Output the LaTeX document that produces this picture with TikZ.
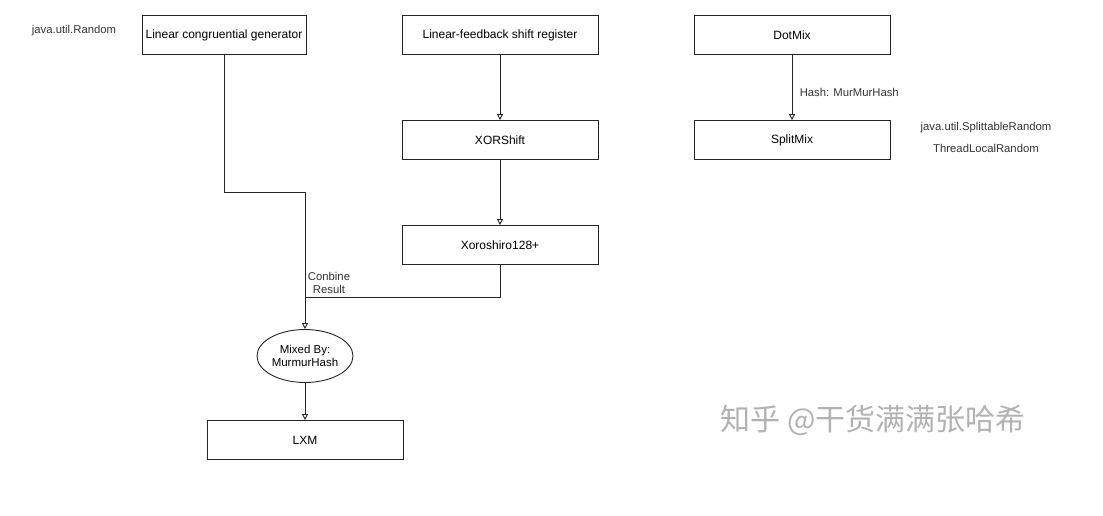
\documentclass[tikz,border=0pt]{standalone}
\usepackage{fontspec}
\setmainfont{Liberation Sans}
\newfontfamily\cjk{Noto Sans CJK SC}
\usepackage{tikz}
\usetikzlibrary{arrows.meta,positioning,shapes.geometric}

\begin{document}
\begin{tikzpicture}[x=1pt, y=-1pt,
  algo/.style={draw=black!85, line width=0.9pt, minimum width=196pt, minimum height=39pt, inner sep=0pt, font=\fontsize{12}{14}\selectfont},
  mixer/.style={draw=black!85, line width=0.9pt, ellipse, minimum width=96pt, minimum height=53pt, inner sep=0pt, align=center, font=\fontsize{11.5}{13.5}\selectfont},
  note/.style={font=\fontsize{11.3}{13}\selectfont, text=black!80},
  arr/.style={-{Triangle[open, length=6pt, width=6pt]}, line width=0.9pt, draw=black!85},
  ln/.style={line width=0.9pt, draw=black!85}]
\useasboundingbox (0,0) rectangle (1103,515);
% top row
\node[algo, minimum width=164pt] (lcg) at (224,35) {Linear congruential generator};
\node[algo] (lfsr) at (500,35) {Linear-feedback shift register};
\node[algo] (dot)  at (792,35) {DotMix};
\node[note] (jur)  at (74,31) {java.util.Random};
% second row
\node[algo] (xs)    at (500,140) {XORShift};
\node[algo] (split) at (792,140) {SplitMix};
\node[note] (sr)    at (986,128) {java.util.SplittableRandom};
\node[note] (tlr)   at (986,148) {ThreadLocalRandom};
% third row
\node[algo] (xoro) at (500,245) {Xoroshiro128+};
% merge
\coordinate (j1) at (305,192);
\coordinate (j2) at (305,297);
\node[mixer] (mix) at (305,356) {Mixed By:\\MurmurHash};
\node[algo]  (lxm) at (305,440) {LXM};
% edges
\draw[arr] (lfsr) -- (xs);
\draw[arr] (xs) -- (xoro);
\draw[arr] (dot) -- node[note, right=4pt, pos=0.58]{Hash: MurMurHash} (split);
\draw[ln]  (lcg.south) |- (j1);
\draw[arr] (j1) -- (mix);
\draw[ln]  (xoro.south) |- (j2);
\node[note, align=center, inner sep=0pt] (comb) at (329,283) {Conbine\\Result};
\draw[arr] (mix) -- (lxm);
% watermark
\node[font=\cjk\fontsize{30}{32}\selectfont, text=black!30] (wm) at (873,420) {知乎 @干货满满张哈希};
\end{tikzpicture}
\end{document}
